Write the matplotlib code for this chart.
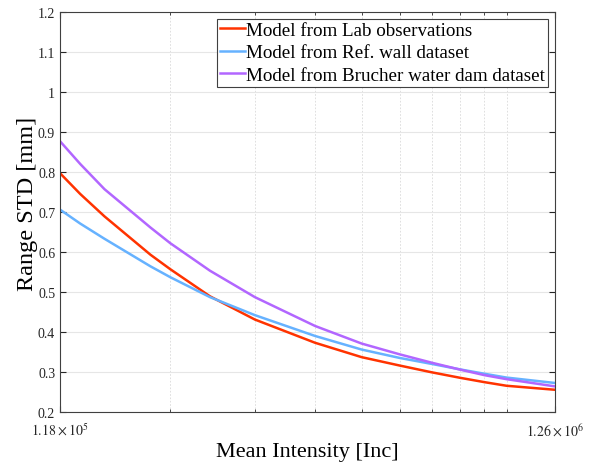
import numpy as np
import matplotlib
matplotlib.use("Agg")
import matplotlib.pyplot as plt
from matplotlib.ticker import FixedLocator, NullFormatter

# Datos
intensity = [1.18e5, 1.30e5, 1.46e5, 1.82e5, 2.0e5, 2.42e5, 3.0e5, 4.0e5, 5.0e5,
             6.0e5, 7.0e5, 8.0e5, 9.0e5, 1.0e6, 1.26e6]
std_lab = [0.797, 0.745, 0.689, 0.593, 0.557, 0.489, 0.431, 0.373, 0.337,
           0.316, 0.299, 0.2855, 0.2745, 0.2655, 0.2555]
std_wall = [0.706, 0.671, 0.633, 0.564, 0.537, 0.487, 0.442, 0.390, 0.356,
            0.335, 0.320, 0.3065, 0.2955, 0.286, 0.2725]
std_dam = [0.877, 0.820, 0.757, 0.661, 0.622, 0.553, 0.487, 0.415, 0.371,
           0.344, 0.323, 0.306, 0.292, 0.282, 0.264]
series_labels = ['Model from Lab observations',
                 'Model from Ref. wall dataset',
                 'Model from Brucher water dam dataset']
y_ticks = [0.2, 0.3, 0.4, 0.5, 0.6, 0.7, 0.8, 0.9, 1.0, 1.1, 1.2]
y_tick_labels = ['0.2', '0.3', '0.4', '0.5', '0.6', '0.7', '0.8', '0.9', '1', '1.1', '1.2']
x_ticks = [1.18e5, 1.26e6]
x_tick_labels = [r'$1.18\times10^{5}$', r'$1.26\times10^{6}$']

plt.rcParams['font.family'] = ['Liberation Serif', 'DejaVu Serif']
plt.rcParams['mathtext.fontset'] = 'stix'

fig = plt.figure(figsize=(5.94, 4.64), dpi=100)
ax = fig.add_axes([0.101, 0.11, 0.833, 0.862])

colors = ['#FF3300', '#66B2FF', '#B266FF']
for ys, lab, c in zip([std_lab, std_wall, std_dam], series_labels, colors):
    ax.plot(intensity, ys, color=c, lw=1.8, label=lab)

ax.set_xscale('log')
ax.set_xlim(1.18e5, 1.26e6)
ax.set_ylim(0.2, 1.2)

ax.xaxis.set_major_locator(FixedLocator(x_ticks))
ax.set_xticklabels(x_tick_labels)
ax.xaxis.set_minor_locator(FixedLocator([2e5, 3e5, 4e5, 5e5, 6e5, 7e5, 8e5, 9e5, 1e6]))
ax.xaxis.set_minor_formatter(NullFormatter())
ax.set_yticks(y_ticks)
ax.set_yticklabels(y_tick_labels)

ax.grid(True, which='major', axis='y', color='#e6e6e6', lw=0.8)
ax.grid(True, which='minor', axis='x', color='#d9d9d9', lw=0.6, ls=(0, (2, 2)))
ax.set_axisbelow(True)

ax.tick_params(which='both', direction='in', top=True, right=True,
               labelsize=10, colors='#262626', length=4)
ax.tick_params(which='minor', length=2.5)
ax.tick_params(axis='x', pad=7)
for s in ax.spines.values():
    s.set_color('#404040')
    s.set_linewidth(0.8)

ax.set_xlabel('Mean Intensity [Inc]', fontsize=16, labelpad=3)
ax.set_ylabel('Range STD [mm]', fontsize=17.5)
ax.yaxis.set_label_coords(-0.045, 0.522)

leg = ax.legend(loc='upper right', fontsize=13.7, handlelength=1.3,
                handletextpad=0.1, borderpad=0.15, labelspacing=0.28,
                fancybox=False, framealpha=1, borderaxespad=0.35)
leg.get_frame().set_edgecolor('#404040')
leg.get_frame().set_linewidth(0.8)

fig.savefig('out.png', dpi=100)
